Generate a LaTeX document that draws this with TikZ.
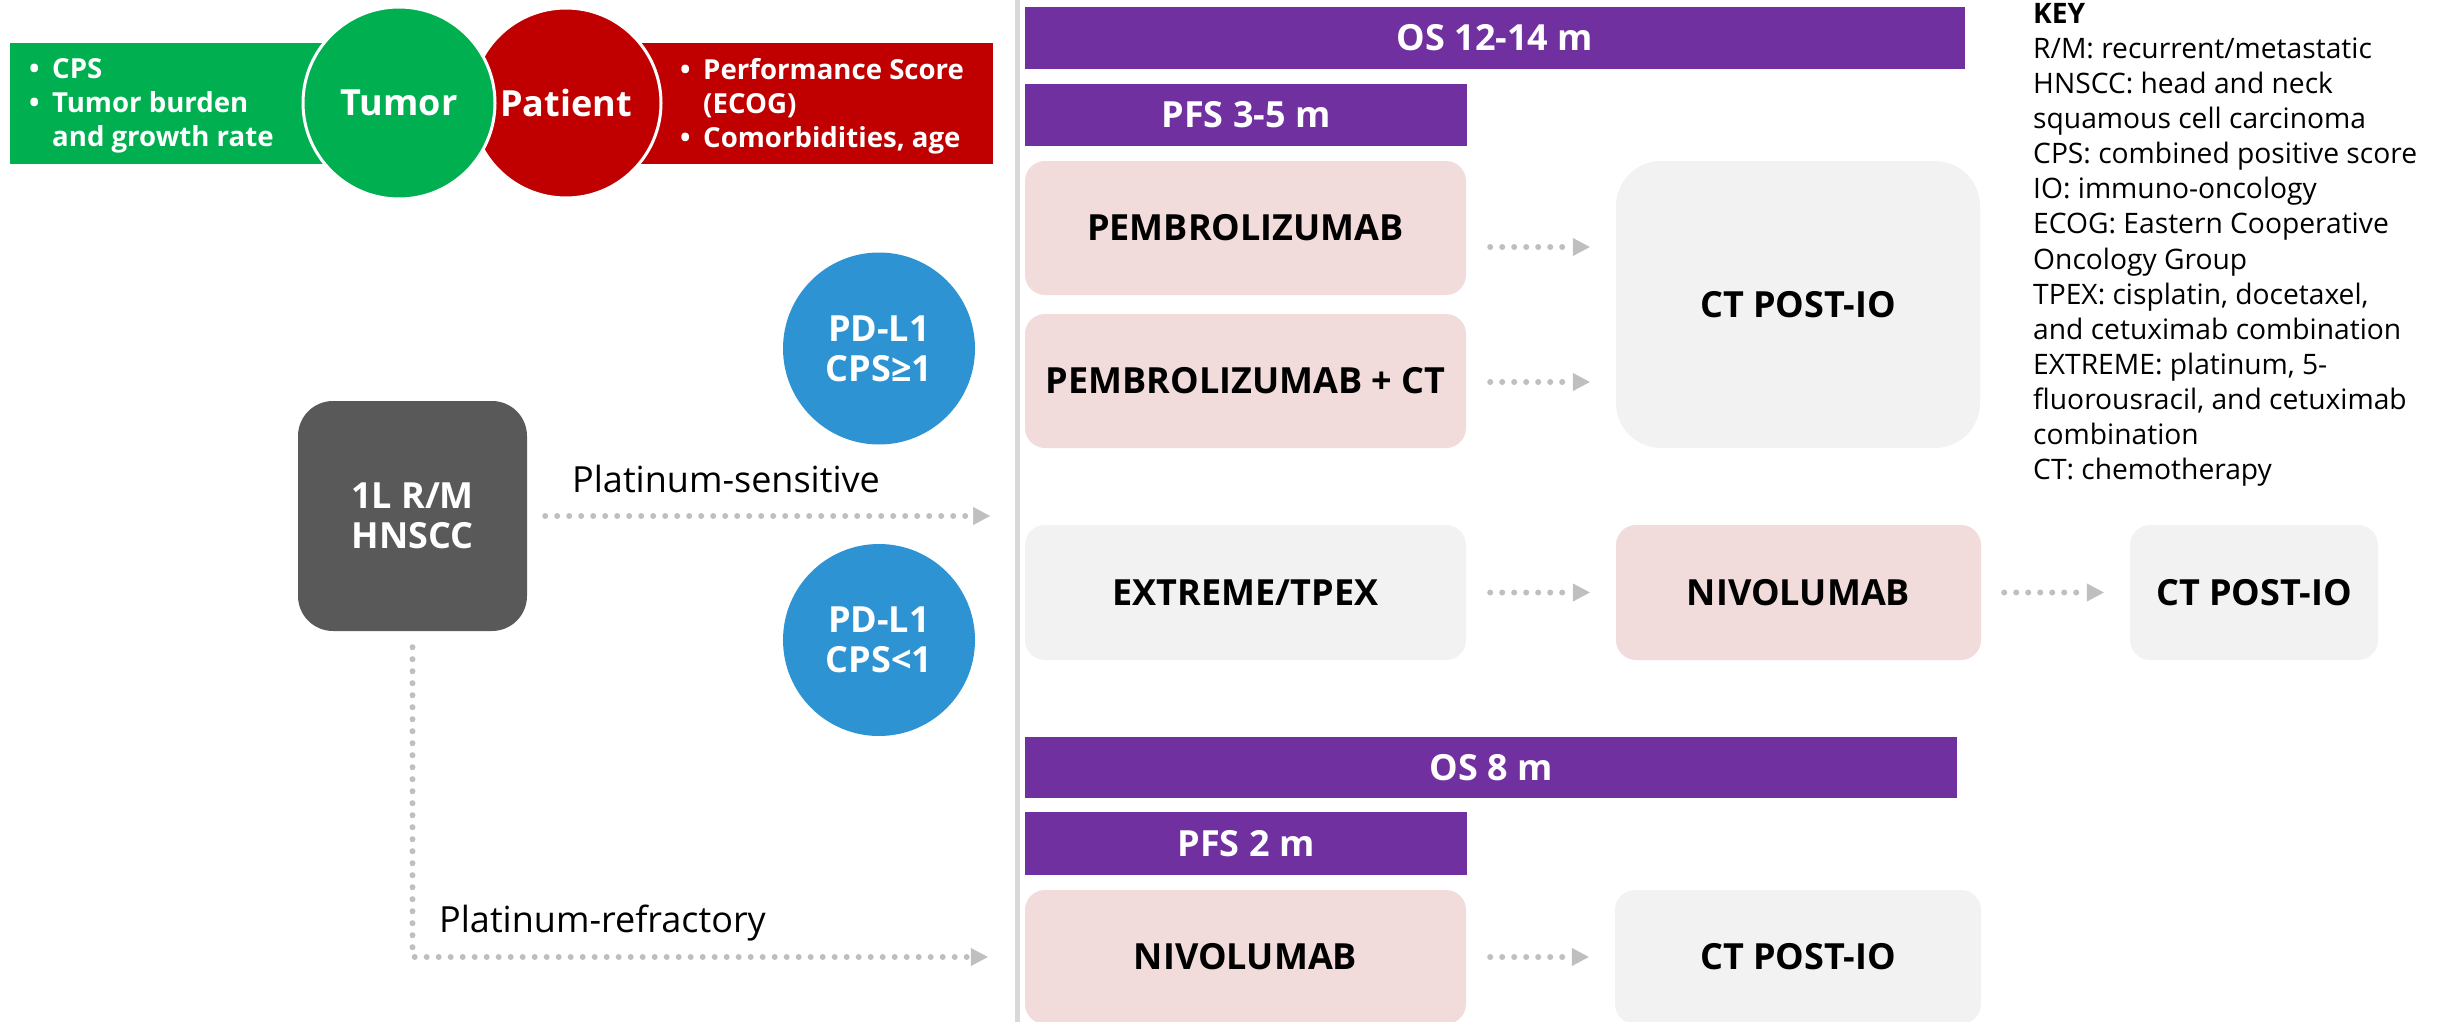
\documentclass[tikz,border=0pt]{standalone}
\usepackage{fontspec}
\setmainfont{Open Sans}
\usetikzlibrary{arrows.meta,calc}
\definecolor{gr}{HTML}{00B050}
\definecolor{rd}{HTML}{C00000}
\definecolor{pu}{HTML}{7030A0}
\definecolor{pk}{HTML}{F2DCDB}
\definecolor{lg}{HTML}{F2F2F2}
\definecolor{dk}{HTML}{595959}
\definecolor{bl}{HTML}{2E93D3}
\definecolor{ar}{HTML}{BFBFBF}
\definecolor{vl}{HTML}{D9D9D9}
\newcommand\fbig{\fontsize{36pt}{40pt}\selectfont}
\newcommand\fsmall{\fontsize{27.6pt}{34pt}\selectfont}
\newcommand\fkey{\fontsize{28.2pt}{35.1pt}\selectfont}
\newcommand\bul{\makebox[23pt][l]{\textbullet}}
\begin{document}
\begin{tikzpicture}[x=1pt,y=-1pt,
 tbox/.style={rounded corners=20pt, inner sep=0pt, font=\fbig\bfseries, align=center},
 pbox/.style={tbox, fill=pk},
 gbox/.style={tbox, fill=lg},
 tbar/.style={fill=pu, inner sep=0pt, text=white, font=\fbig\bfseries},
 circ/.style={circle, inner sep=0pt, minimum size=192pt, text=white, font=\fbig\bfseries, align=center},
 arr/.style={draw=ar, line width=6pt, dash pattern=on 0pt off 12pt, line cap=round, -{Triangle[length=17pt,width=18pt,line width=0.5pt]}},
 lbl/.style={anchor=base west, inner sep=0pt, font=\fbig}
]
\path[use as bounding box] (0,0) rectangle (2443,1022);

% top: tumor / patient
\node[fill=gr, inner sep=0pt, minimum width=390pt, minimum height=121pt] (grect) at (205,103.5) {};
\node[fill=rd, inner sep=0pt, minimum width=427pt, minimum height=121pt] (rrect) at (779.5,103.5) {};
\node[circ, fill=rd, draw=white, line width=3pt, minimum size=190pt] (patient) at (566,103) {Patient};
\node[circ, fill=gr, draw=white, line width=3pt] (tumor) at (399,103) {Tumor};
\node[anchor=north west, align=left, inner sep=0pt, text=white, font=\fsmall\bfseries] (gtext) at (29,58)
  {\bul CPS\\\bul Tumor burden\\\hspace*{23pt}and growth rate};
\node[anchor=north west, align=left, inner sep=0pt, text=white, font=\fsmall\bfseries] (rtext) at (680,58)
  {\bul Performance Score\\\hspace*{23pt}(ECOG)\\\bul Comorbidities, age};

% vertical divider
\draw[vl, line width=5pt] (1017.5,0) -- (1017.5,1022);

% bars
\node[tbar, minimum width=940pt, minimum height=62pt] (os1) at (1495,38) {OS 12-14 m};
\node[tbar, minimum width=442pt, minimum height=62pt] (pfs1) at (1246,115) {PFS 3-5 m};
\node[tbar, minimum width=932pt, minimum height=61pt] (os2) at (1491,767.5) {OS 8 m};
\node[tbar, minimum width=442pt, minimum height=63pt] (pfs2) at (1246,843.5) {PFS 2 m};

% boxes
\node[pbox, minimum width=441pt, minimum height=134pt] (p1) at (1245.5,228) {PEMBROLIZUMAB};
\node[pbox, minimum width=441pt, minimum height=134pt] (p2) at (1245.5,381) {PEMBROLIZUMAB + CT};
\node[gbox, rounded corners=45pt, minimum width=364pt, minimum height=287pt] (ctb) at (1798,304.5) {CT POST-IO};
\node[gbox, minimum width=441pt, minimum height=135pt] (ex) at (1245.5,592.5) {EXTREME/TPEX};
\node[pbox, minimum width=365pt, minimum height=135pt] (n1) at (1798.5,592.5) {NIVOLUMAB};
\node[gbox, minimum width=248pt, minimum height=135pt] (ct2) at (2254,592.5) {CT POST-IO};
\node[pbox, minimum width=441pt, minimum height=134pt] (n2) at (1245.5,957) {NIVOLUMAB};
\node[gbox, minimum width=366pt, minimum height=134pt] (ct3) at (1798,957) {CT POST-IO};

% left side
\node[fill=dk, rounded corners=35pt, inner sep=0pt, minimum width=229pt, minimum height=230pt, text=white, font=\fbig\bfseries, align=center] (hn) at (412.5,516) {1L R/M\\HNSCC};
\node[circ, fill=bl] (pdh) at (879,348.5) {PD-L1\\CPS≥1};
\node[circ, fill=bl] (pdl) at (879,640) {PD-L1\\CPS<1};
\node[lbl] (lps) at (572,492) {Platinum-sensitive};
\node[lbl] (lpr) at (439,932) {Platinum-refractory};

% arrows
\coordinate (pse) at (990,516);
\draw[arr] ([xshift=18pt]hn.east) -- (pse);
\draw[arr] ([yshift=-16pt]hn.south) |- ([xshift=-37pt]n2.west);
\draw[arr] ($(p1.east)+(24,19)$) -- ($(p1.east -| ctb.west)+(-26,19)$);
\draw[arr] ($(p2.east)+(24,1)$) -- ($(p2.east -| ctb.west)+(-26,1)$);
\draw[arr] ([xshift=24pt]ex.east) -- ([xshift=-26pt]n1.west);
\draw[arr] ([xshift=23pt]n1.east) -- ([xshift=-26pt]ct2.west);
\draw[arr] ([xshift=24pt]n2.east) -- ([xshift=-26pt]ct3.west);

% key
\node[anchor=north west, align=left, inner sep=0pt, font=\fkey] (key) at (2033,3)
 {\textbf{KEY}\\
  R/M: recurrent/metastatic\\
  HNSCC: head and neck\\
  squamous cell carcinoma\\
  CPS: combined positive score\\
  IO: immuno-oncology\\
  ECOG: Eastern Cooperative\\
  Oncology Group\\
  TPEX: cisplatin, docetaxel,\\
  and cetuximab combination\\
  EXTREME: platinum, 5-\\
  fluorousracil, and cetuximab\\
  combination\\
  CT: chemotherapy};
\end{tikzpicture}
\end{document}
